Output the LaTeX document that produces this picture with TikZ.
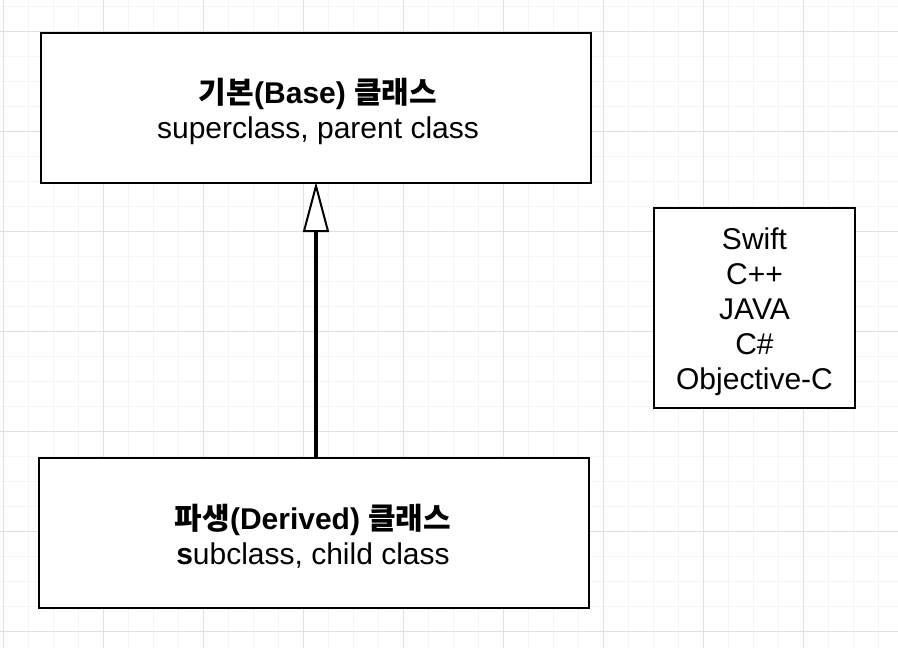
\documentclass[tikz,border=0pt]{standalone}
\usepackage{fontspec}
\setmainfont{Liberation Sans}
\newfontfamily\kr{Noto Sans CJK KR}
\usetikzlibrary{arrows.meta}
\definecolor{minorgrid}{HTML}{F5F5F5}
\definecolor{majorgrid}{HTML}{E0E0E0}
\tikzset{
  classbox/.style={draw=black, line width=2pt, fill=white, minimum width=550pt, minimum height=150pt, inner sep=0pt},
  langbox/.style={draw=black, line width=2pt, fill=white, minimum width=201pt, minimum height=200pt, inner sep=0pt},
  boxtext/.style={align=center, inner sep=0pt, font=\fontsize{30}{35}\selectfont},
  inherit/.style={line width=4.5pt, shorten >=-2pt, -{Triangle[open, length=50pt, width=26pt, line width=2pt]}}
}
\begin{document}
\begin{tikzpicture}[x=1pt,y=-1pt]
\useasboundingbox (0,0) rectangle (898,648);
\fill[white] (0,0) rectangle (898,648);
% minor grid
\foreach \gx in {3,28,...,898} \draw[minorgrid, line width=1pt] (\gx,0) -- (\gx,648);
\foreach \gy in {6,31,...,648} \draw[minorgrid, line width=1pt] (0,\gy) -- (898,\gy);
% major grid
\foreach \gx in {3,103,...,898} \draw[majorgrid, line width=1pt] (\gx,0) -- (\gx,648);
\foreach \gy in {31,131,...,648} \draw[majorgrid, line width=1pt] (0,\gy) -- (898,\gy);

\node[classbox] (base) at (316,108) {};
\node[boxtext] (basetxt) at (318,111) {\textbf{{\kr 기본}(Base) {\kr 클래스}}\\superclass, parent class};
\node[classbox] (derived) at (314,533) {};
\node[boxtext] (derivedtxt) at (313,536) {\textbf{{\kr 파생}(Derived) {\kr 클래스}}\\\textbf{s}ubclass, child class};
\node[langbox] (langs) at (754.5,308) {};
\node[boxtext] (langstxt) at (754.5,312) {Swift\\C++\\JAVA\\C\#\\Objective-C};

\draw[inherit] (derived.north -| base.south) -- (base.south);
\end{tikzpicture}
\end{document}
